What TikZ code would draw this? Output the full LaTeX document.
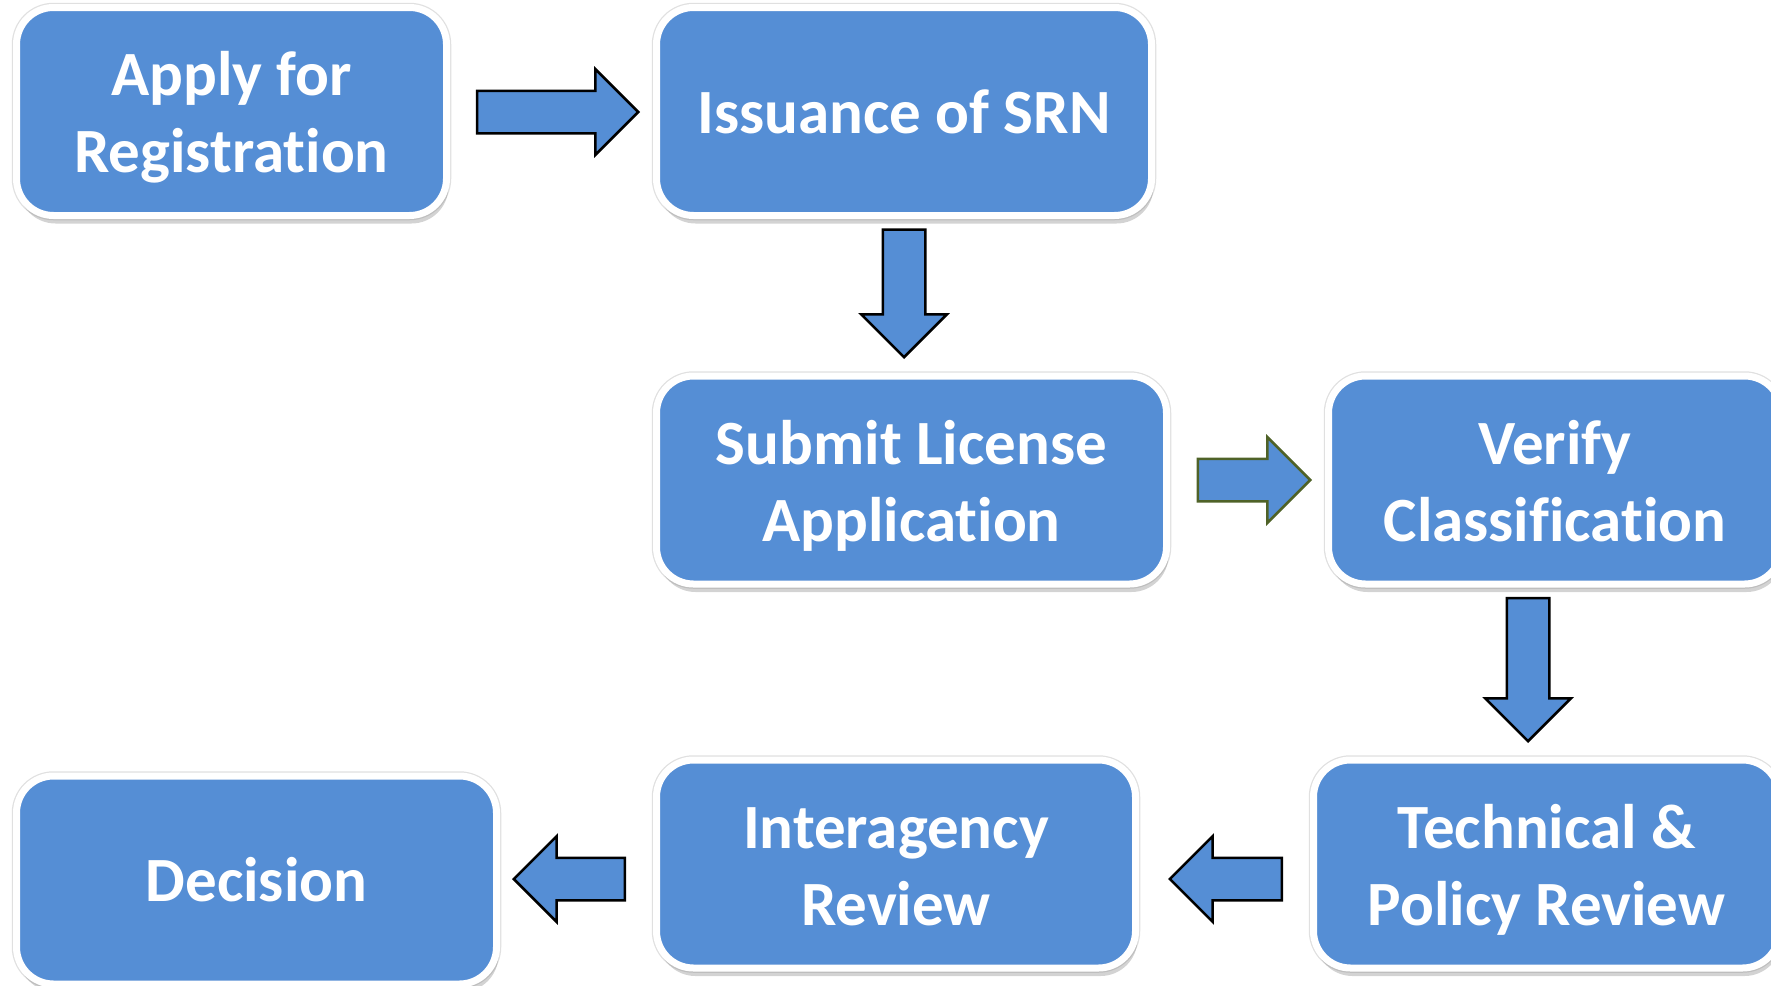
\documentclass[tikz,border=0pt]{standalone}
\usepackage{fontspec}
\setmainfont{Carlito}[Ligatures={NoCommon}]
\usepackage{xcolor}
\usetikzlibrary{positioning,shapes.arrows,shadows}
\definecolor{BoxBlue}{RGB}{85,142,213}
\definecolor{OliveDark}{RGB}{79,98,40}

\begin{document}
\begin{tikzpicture}[x=1pt, y=-1pt,
                % Styles for the process boxes
                procbox/.style={rectangle, rounded corners=37pt, draw=white, line width=7pt, fill=BoxBlue, text=white, font=\fontsize{63}{77}\selectfont\bfseries, align=center, inner sep=0pt, minimum height=208pt, preaction={draw=black!12, line width=9.5pt}, drop shadow={shadow xshift=2pt, shadow yshift=-8pt, opacity=0.35}},
                twoline/.style={text height=135pt, text depth=13pt},
                % Style for the block arrows
                blockarrow/.style={single arrow, single arrow head extend=21.5pt, single arrow tip angle=90, single arrow head indent=0pt, inner sep=20pt, minimum width=83pt, draw=black, line width=2.5pt, fill=BoxBlue, anchor=tip}
            ]
                \useasboundingbox (0,0) rectangle (1771,985);

                % --- BOXES ---
                % Row 1
                \node[procbox, twoline, minimum width=430pt] (reg) at (231.5, 111.5) {Apply for\\Registration};
                \node[procbox, minimum width=495pt] (srn) at (904, 111.5) {Issuance of SRN};

                % Row 2
                \node[procbox, twoline, minimum width=510pt] (submit) at (911.5, 480) {Submit License\\Application};
                \node[procbox, twoline, minimum width=453pt] (verify) at (1555, 480) {Verify\\Classification};

                % Row 3
                \node[procbox, twoline, minimum width=466pt] (techrev) at (1546.5, 864) {Technical \&\\Policy Review};
                \node[procbox, twoline, minimum width=479pt] (interrev) at (896, 864) {Interagency\\Review};
                \node[procbox, minimum width=480pt] (decision) at (256.5, 880) {Decision};

                % --- ARROWS ---
                \node[blockarrow, minimum height=161pt] (arr1) at (640, 112) {};
                \node[blockarrow, shape border rotate=270, minimum height=127.5pt] (arr2) at (904, 359) {};
                \node[blockarrow, draw=OliveDark, minimum height=112.5pt] (arr3) at (1312, 480) {};
                \node[blockarrow, shape border rotate=270, minimum height=143pt] (arr4) at (1528, 743) {};
                \node[blockarrow, shape border rotate=180, minimum height=112pt] (arr5) at (1168, 879) {};
                \node[blockarrow, shape border rotate=180, minimum height=111pt] (arr6) at (512, 879) {};

            \end{tikzpicture}
\end{document}
